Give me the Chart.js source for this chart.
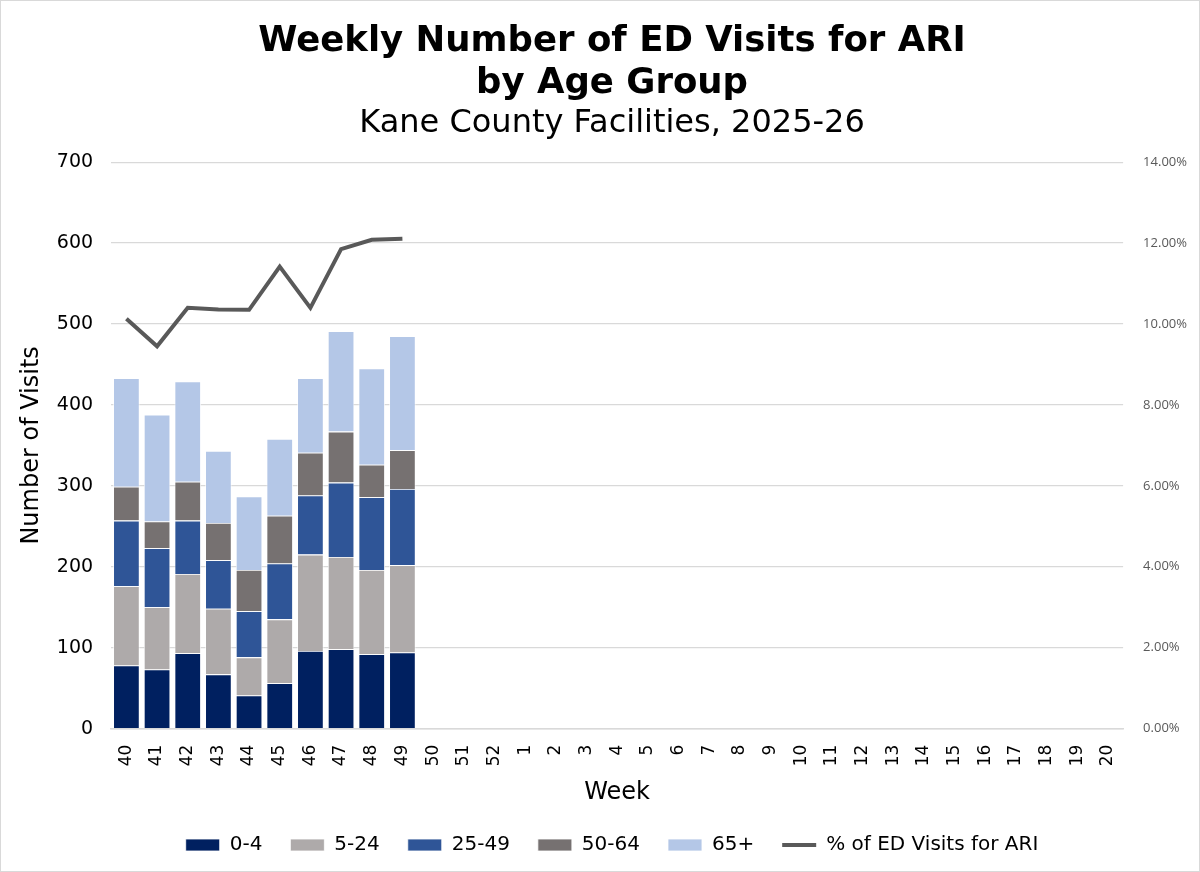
<!DOCTYPE html>
<html lang="en">
<head>
<meta charset="UTF-8" />
<title>Weekly Number of ED Visits for ARI by Age Group</title>
<script src="https://cdn.jsdelivr.net/npm/chart.js"></script>
<style>
  html, body { margin: 0; padding: 0; background: #fff; }
  #wrap {
    width: 1198px; height: 870px;
    border: 1px solid #d9d9d9;
  }
</style>
</head>
<body>
<div id="wrap"><canvas id="chart" width="1198" height="870"></canvas></div>

<script>
const weeks = ['40','41','42','43','44','45','46','47','48','49','50','51','52',
  '1','2','3','4','5','6','7','8','9','10','11','12','13','14','15','16','17','18','19','20'];

const age0to4   = [78, 73, 93, 67, 41, 56, 96, 98, 92, 94];
const age5to24  = [98, 77, 98, 81, 47, 79, 119, 114, 104, 108];
const age25to49 = [81, 73, 66, 60, 57, 69, 73, 92, 90, 94];
const age50to64 = [42, 33, 48, 46, 51, 59, 53, 63, 40, 48];
const age65plus = [134, 132, 124, 89, 91, 95, 92, 124, 119, 141];
const pctAri    = [10.13, 9.45, 10.40, 10.36, 10.35, 11.42, 10.40, 11.85, 12.08, 12.11];

const font = 'DejaVu Sans, Verdana, sans-serif';

function pad(arr) {
  return weeks.map((w, i) => i < arr.length ? arr[i] : null);
}

function barSet(label, data, color) {
  return {
    type: 'bar',
    label: label,
    data: pad(data),
    backgroundColor: color,
    borderColor: '#ffffff',
    borderWidth: 0.8,
    pointStyle: 'rect',
    yAxisID: 'y',
    stack: 'age',
    barPercentage: 0.86,
    categoryPercentage: 1.0,
    order: 2
  };
}

new Chart(document.getElementById('chart'), {
  data: {
    labels: weeks,
    datasets: [
      barSet('0-4', age0to4, '#002060'),
      barSet('5-24', age5to24, '#aeaaaa'),
      barSet('25-49', age25to49, '#2f5597'),
      barSet('50-64', age50to64, '#767171'),
      barSet('65+', age65plus, '#b4c7e7'),
      {
        type: 'line',
        label: '% of ED Visits for ARI',
        data: pad(pctAri),
        borderColor: '#595959',
        backgroundColor: '#595959',
        borderWidth: 4,
        pointRadius: 0,
        pointStyle: 'line',
        tension: 0,
        spanGaps: false,
        yAxisID: 'y1',
        order: 1
      }
    ]
  },
  options: {
    responsive: false,
    animation: false,
    layout: { padding: { top: 5, left: 16, right: -8, bottom: 6 } },
    plugins: {
      title: {
        display: true,
        text: ['Weekly Number of ED Visits for ARI', 'by Age Group'],
        color: '#000',
        font: { family: font, size: 35.5, weight: 'bold', lineHeight: 1.18 },
        padding: { top: 15, bottom: 0 }
      },
      subtitle: {
        display: true,
        text: 'Kane County Facilities, 2025-26',
        color: '#000',
        font: { family: font, size: 32, lineHeight: 1.2 },
        padding: { top: 0, bottom: 19 }
      },
      legend: {
        position: 'bottom',
        labels: {
          usePointStyle: true,
          pointStyleWidth: 34,
          boxHeight: 12,
          padding: 28,
          color: '#000',
          font: { family: font, size: 20 },
          sort: (a, b) => a.datasetIndex - b.datasetIndex
        }
      },
      tooltip: { enabled: false }
    },
    scales: {
      x: {
        stacked: true,
        grid: { display: false },
        border: { color: '#d9d9d9', width: 1.5 },
        ticks: {
          color: '#000',
          font: { family: font, size: 17 },
          minRotation: 90,
          maxRotation: 90,
          autoSkip: false,
          padding: 8
        },
        title: {
          display: true,
          text: 'Week',
          color: '#000',
          font: { family: font, size: 24 },
          padding: { top: 4, bottom: 0 }
        }
      },
      y: {
        stacked: true,
        position: 'left',
        min: 0,
        max: 700,
        ticks: {
          stepSize: 100,
          color: '#000',
          font: { family: font, size: 19 },
          padding: 18
        },
        grid: { color: '#d9d9d9', lineWidth: 1.2, drawTicks: false },
        border: { display: false },
        title: {
          display: true,
          text: 'Number of Visits',
          color: '#000',
          font: { family: font, size: 24 },
          padding: { top: 0, bottom: -7 }
        }
      },
      y1: {
        position: 'right',
        min: 0,
        max: 14,
        ticks: {
          stepSize: 2,
          color: '#595959',
          font: { family: 'Open Sans, sans-serif', size: 13 },
          padding: 20,
          callback: v => v.toFixed(2) + '%'
        },
        grid: { display: false, drawTicks: false },
        border: { display: false }
      }
    }
  }
});
</script>
</body>
</html>
